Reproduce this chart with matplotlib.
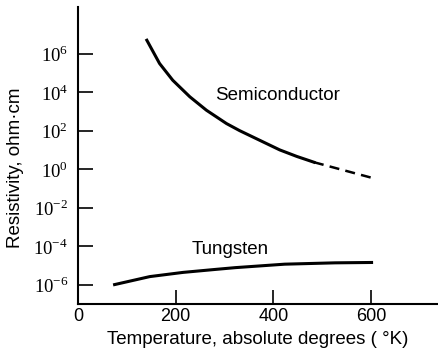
import matplotlib.pyplot as plt

# values (temperature in K, resistivity in ohm-cm)
semi_T = [141, 167, 194, 229, 263, 304, 331, 372, 413, 448, 483]
semi_rho = [5.0e6, 3.1e5, 4.17e4, 5.75e3, 1.15e3, 2.34e2, 1.0e2, 3.16e1, 1.0e1, 4.57e0, 2.29e0]
semi_ext_T = [483, 543, 608]
semi_ext_rho = [2.29e0, 8.9e-1, 3.2e-1]

tung_T = [75, 147, 215, 283, 322, 423, 526, 601]
tung_rho = [1.0e-6, 2.6e-6, 4.3e-6, 6.2e-6, 7.6e-6, 1.15e-5, 1.35e-5, 1.41e-5]

ytick_vals = [1e-6, 1e-4, 1e-2, 1e0, 1e2, 1e4, 1e6]
ytick_labels = ["$10^{-6}$", "$10^{-4}$", "$10^{-2}$", "$10^{0}$", "$10^{2}$", "$10^{4}$", "$10^{6}$"]
xtick_vals = [0, 200, 400, 600]
xtick_labels = ["0", "200", "400", "600"]

plt.rcParams["font.family"] = ["Liberation Sans", "DejaVu Sans"]
plt.rcParams["mathtext.fontset"] = "custom"
plt.rcParams["mathtext.rm"] = "Liberation Serif"

fig = plt.figure(figsize=(4.38, 3.56), dpi=100)
ax = fig.add_axes([0.178, 0.146, 0.822, 0.834])

# curves
ax.plot(semi_T, semi_rho, color="black", linewidth=2.2)
ax.plot(semi_ext_T, semi_ext_rho, color="black", linewidth=1.8, linestyle=(0, (4, 2.5)))
ax.plot(tung_T, tung_rho, color="black", linewidth=2.2)

ax.set_yscale("log")
ax.set_xlim(0, 737)
ax.set_ylim(10 ** -7.01, 10 ** 8.42)

ax.set_yticks(ytick_vals)
ax.set_yticklabels(ytick_labels, fontsize=13.5)
ax.minorticks_off()
ax.set_xticks(xtick_vals)
ax.set_xticklabels(xtick_labels, fontsize=13)

ax.tick_params(axis="y", direction="in", length=11, width=1.2, pad=7)
ax.tick_params(axis="x", direction="in", length=10, width=1.2, pad=3)

for side in ["top", "right"]:
    ax.spines[side].set_visible(False)
ax.spines["left"].set_linewidth(1.5)
ax.spines["bottom"].set_linewidth(1.5)

ax.text(280, 10 ** 3.84, "Semiconductor", fontsize=13.5, va="center", ha="left")
ax.text(233, 10 ** -4.2, "Tungsten", fontsize=13.5, va="center", ha="left")

ax.set_xlabel("Temperature, absolute degrees ( °K)", fontsize=13.5, labelpad=4)
ax.set_ylabel("Resistivity, ohm·cm", fontsize=13.5)
ax.yaxis.set_label_coords(-0.15, 0.458)

fig.savefig("out.png", dpi=100)
